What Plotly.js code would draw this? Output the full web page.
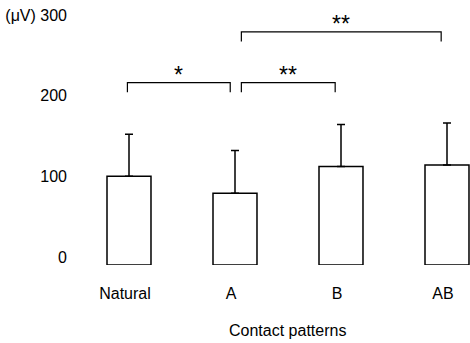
<!DOCTYPE html>
<html>
<head>
<meta charset="utf-8">
<script src="https://cdn.plot.ly/plotly-3.0.1.min.js"></script>
<style>html,body{margin:0;padding:0;background:#fff;}#chart{width:470px;height:343px;}</style>
</head>
<body>
<div id="chart"></div>
<script>
// Data
const categories = ['Natural', 'A', 'B', 'AB'];
const means = [110, 89, 122, 124];
const sdPlus = [52, 53, 52, 52];
const yTickVals = [0, 100, 200, 300];
const yTickText = ['0', '100', '200', '(μV) 300'];
const xTitle = 'Contact patterns';
// Significance brackets: category index pairs, bracket level (µV), label
const bracketFrom = [0, 1, 1];
const bracketTo = [1, 2, 3];
const bracketLevel = [226, 226, 289];
const bracketLabel = ['*', '**', '**'];

const font = {family: 'Liberation Sans, Arial, sans-serif', size: 16, color: '#000'};
const xIdx = categories.map((c, i) => i);

const trace = {
  type: 'bar',
  x: xIdx,
  y: means,
  width: 0.415,
  marker: {color: '#fff', line: {color: '#000', width: 1.5}},
  error_y: {type: 'data', symmetric: false, array: sdPlus, arrayminus: means.map(() => 0),
            color: '#000', thickness: 1.5, width: 4},
  hoverinfo: 'none'
};

const shapes = [];
const annotations = [];
const tickDrop = 12;
for (let i = 0; i < bracketFrom.length; i++) {
  const a = bracketFrom[i] + (bracketFrom[i] === 1 ? 0.06 : -0.015);
  const b = bracketTo[i] - (bracketTo[i] === 1 ? 0.045 : 0.055);
  const lv = bracketLevel[i];
  shapes.push({type: 'path', xref: 'x', yref: 'y',
    path: `M ${a} ${lv - tickDrop} L ${a} ${lv} L ${b} ${lv} L ${b} ${lv - tickDrop}`,
    line: {color: '#000', width: 1.2}});
  annotations.push({x: (a + b) / 2, y: lv, xref: 'x', yref: 'y', text: bracketLabel[i],
    showarrow: false, yanchor: 'bottom', yshift: -7,
    font: {family: 'Liberation Sans, Arial, sans-serif', size: 23, color: '#000'}});
}
annotations.push({x: 0.538, y: -0.255, xref: 'paper', yref: 'paper', text: xTitle,
  showarrow: false, xanchor: 'center', yanchor: 'middle', font: font});

const layout = {
  width: 470, height: 343,
  margin: {l: 76, r: 0, t: 10, b: 78},
  paper_bgcolor: '#fff', plot_bgcolor: '#fff',
  showlegend: false,
  font: font,
  xaxis: {
    range: [-0.5, 3.217], tickvals: xIdx, ticktext: categories,
    showgrid: false, zeroline: false, showline: false, ticks: '',
    ticklabelstandoff: 17, ticklabelshift: -4,
    tickfont: font
  },
  yaxis: {
    range: [0, 316], tickvals: yTickVals, ticktext: yTickText,
    showgrid: false, zeroline: false, showline: false, ticks: '',
    ticklabelstandoff: 8, ticklabelshift: -8,
    tickfont: font
  },
  shapes: shapes,
  annotations: annotations
};

Plotly.newPlot('chart', [trace], layout, {staticPlot: true, displayModeBar: false});
</script>
</body>
</html>
